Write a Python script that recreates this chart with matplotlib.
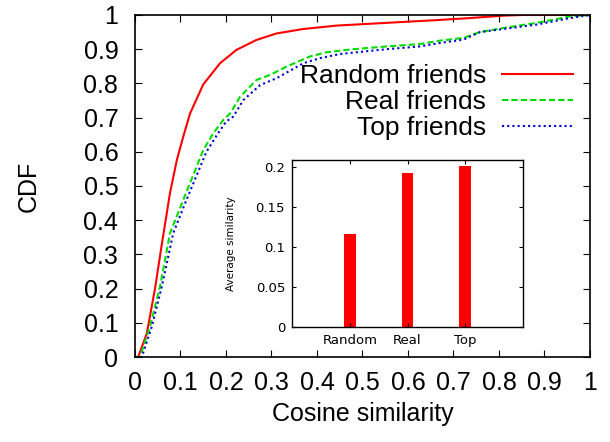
import matplotlib
matplotlib.use("Agg")
import matplotlib.pyplot as plt

plt.rcParams['font.family'] = ['Liberation Sans', 'DejaVu Sans']

# CDF curves
rand_x = [0.0, 0.007, 0.026, 0.044, 0.059, 0.077, 0.092, 0.106, 0.121, 0.15, 0.187, 0.223, 0.267,
          0.311, 0.37, 0.443, 0.553, 0.663, 0.736, 0.81, 0.85, 1.0]
rand_y = [0.0, 0.0, 0.069, 0.2, 0.33, 0.48, 0.576, 0.644, 0.712, 0.797, 0.859, 0.898, 0.927,
          0.946, 0.959, 0.969, 0.977, 0.985, 0.991, 0.998, 1.0, 1.0]

real_x = [0.0, 0.011, 0.033, 0.055, 0.077, 0.106, 0.15, 0.172, 0.194, 0.209, 0.231, 0.267, 0.297,
          0.333, 0.385, 0.421, 0.48, 0.553, 0.626, 0.67, 0.722, 0.758, 0.81, 0.883, 0.919, 0.956, 1.0]
real_y = [0.0, 0.0, 0.089, 0.206, 0.362, 0.459, 0.605, 0.654, 0.693, 0.712, 0.761, 0.81, 0.825,
          0.849, 0.879, 0.891, 0.90, 0.908, 0.915, 0.925, 0.933, 0.95, 0.962, 0.977, 0.986, 0.996, 1.0]

top_x = [0.0, 0.015, 0.037, 0.059, 0.084, 0.113, 0.157, 0.18, 0.2, 0.216, 0.238, 0.275, 0.311,
         0.37, 0.407, 0.451, 0.553, 0.626, 0.67, 0.722, 0.758, 0.883, 0.956, 1.0]
top_y = [0.0, 0.0, 0.089, 0.206, 0.362, 0.459, 0.60, 0.649, 0.688, 0.703, 0.751, 0.795, 0.815,
         0.859, 0.874, 0.886, 0.90, 0.908, 0.918, 0.928, 0.95, 0.972, 0.991, 1.0]

# inset bars
bar_labels = ["Random", "Real", "Top"]
bar_vals = [0.116, 0.193, 0.202]

fig = plt.figure(figsize=(6.10, 4.42), dpi=100)
ax = fig.add_axes([0.2213, 0.1923, 0.7459, 0.7738])

ax.plot(rand_x, rand_y, color='#ff0000', lw=1.5, label='Random friends')
ax.plot(real_x, real_y, color='#00dd00', lw=1.5, ls=(0, (3, 1.5)), label='Real friends')
ax.plot(top_x, top_y, color='#0000cc', lw=1.5, ls=(0, (1, 1.5)), label='Top friends')

ax.set_xlim(0, 1)
ax.set_ylim(0, 1)
ax.set_xticks([i / 10 for i in range(11)])
ax.set_yticks([i / 10 for i in range(11)])
ax.set_xticklabels(['0', '0.1', '0.2', '0.3', '0.4', '0.5', '0.6', '0.7', '0.8', '0.9', '1'])
ax.set_yticklabels(['0', '0.1', '0.2', '0.3', '0.4', '0.5', '0.6', '0.7', '0.8', '0.9', '1'])
ax.tick_params(direction='in', top=True, right=True, length=5, labelsize=18)
ax.tick_params(axis='x', pad=10)
ax.tick_params(axis='y', pad=12)
ax.set_xlabel('Cosine similarity', fontsize=18, labelpad=5)
ax.set_ylabel('CDF', fontsize=18, labelpad=31)
for s in ax.spines.values():
    s.set_linewidth(1.2)

leg = ax.legend(loc='upper right', bbox_to_anchor=(573 / 610, 1 - 64 / 442),
                bbox_transform=fig.transFigure, frameon=False, markerfirst=False,
                fontsize=19, handlelength=2.7, handletextpad=0.6,
                labelspacing=0.08, borderpad=0, borderaxespad=0)

ins = fig.add_axes([0.4787, 0.2602, 0.3787, 0.3778])
ins.bar([1, 2, 3], bar_vals, width=0.2, color='#ff0000')
ins.set_xlim(0, 4)
ins.set_ylim(0, 0.209)
ins.set_xticks([1, 2, 3])
ins.set_xticklabels(bar_labels, family='DejaVu Sans')
ins.set_yticks([0, 0.05, 0.1, 0.15, 0.2])
ins.set_yticklabels(['0', '0.05', '0.1', '0.15', '0.2'], family='DejaVu Sans')
ins.tick_params(direction='in', top=True, right=True, length=3, labelsize=9.5, pad=5)
ins.set_ylabel('Average similarity', fontsize=7.5, family='DejaVu Sans', labelpad=14)
for s in ins.spines.values():
    s.set_linewidth(1.0)

fig.savefig('out.png', dpi=100)
